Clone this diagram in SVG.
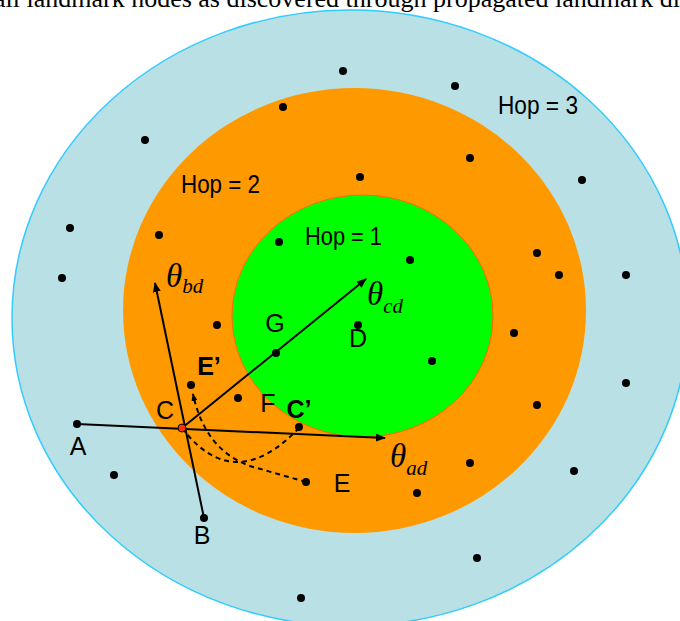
<svg xmlns="http://www.w3.org/2000/svg" width="680" height="621" viewBox="0 0 680 621">
<defs>
<style>
.dot{fill:#000}
.lbl{font-family:"Liberation Sans",Arial,sans-serif;font-size:25px;fill:#000}
.bold{font-weight:bold}
.hop{font-family:"Liberation Sans",Arial,sans-serif;font-size:25px;fill:#000}
.th{font-family:"Liberation Serif","Times New Roman",serif;font-style:italic;fill:#000}
.ln{stroke:#000;stroke-width:2;fill:none}
.dash{stroke:#000;stroke-width:2;fill:none;stroke-dasharray:5,4}
</style>
<marker id="ah" viewBox="0 0 10 8" refX="9" refY="4" markerWidth="10" markerHeight="8" markerUnits="userSpaceOnUse" orient="auto">
<path d="M0,0 L10,4 L0,8 z" fill="#000"/>
</marker>
<marker id="ahs" viewBox="0 0 8 6" refX="7" refY="3" markerWidth="8" markerHeight="6" markerUnits="userSpaceOnUse" orient="auto">
<path d="M0,0 L8,3 L0,6 z" fill="#000"/>
</marker>
</defs>
<rect width="680" height="621" fill="#fff"/>
<text x="-6" y="7" font-family="'Liberation Serif','Times New Roman',serif" font-size="26" fill="#000">all landmark nodes as discovered through propagated landmark di</text>
<g id="zone3">
<ellipse cx="350" cy="318" rx="338" ry="308" fill="#B9E0E4" stroke="#33CCFF" stroke-width="1.5"/>
<text class="hop" x="498" y="114" textLength="80" lengthAdjust="spacingAndGlyphs">Hop = 3</text>
</g>
<g id="zone2">
<ellipse cx="354.5" cy="310.5" rx="231.5" ry="222.5" fill="#FF9900"/>
<text class="hop" x="181" y="193" textLength="79" lengthAdjust="spacingAndGlyphs">Hop = 2</text>
</g>
<g id="zone1">
<ellipse cx="362.5" cy="316" rx="130.5" ry="121" fill="#00FF00" stroke="#FF6600" stroke-width="1"/>
<text class="hop" x="305" y="245" textLength="77" lengthAdjust="spacingAndGlyphs">Hop = 1</text>
</g>
<g id="connectors">
<line class="ln" x1="77" y1="424" x2="385" y2="438" marker-end="url(#ah)"/>
<line class="ln" x1="204" y1="518" x2="155" y2="283" marker-end="url(#ah)"/>
<line class="ln" x1="182" y1="428" x2="366" y2="279" marker-end="url(#ah)"/>
<path class="dash" d="M182,428 Q234,496 299,428"/>
<path class="dash" d="M306,482 L250,466 Q205,450 193,394" marker-end="url(#ahs)"/>
</g>
<g id="dots">
<circle class="dot" cx="343" cy="71" r="4"/>
<circle class="dot" cx="455" cy="86" r="4"/>
<circle class="dot" cx="283" cy="107" r="4"/>
<circle class="dot" cx="145" cy="140" r="4"/>
<circle class="dot" cx="470" cy="158" r="4"/>
<circle class="dot" cx="360" cy="177" r="4"/>
<circle class="dot" cx="582" cy="180" r="4"/>
<circle class="dot" cx="70" cy="228" r="4"/>
<circle class="dot" cx="62" cy="278" r="4"/>
<circle class="dot" cx="159" cy="235" r="4"/>
<circle class="dot" cx="279" cy="242" r="4"/>
<circle class="dot" cx="410" cy="260" r="4"/>
<circle class="dot" cx="537" cy="253" r="4"/>
<circle class="dot" cx="559" cy="275" r="4"/>
<circle class="dot" cx="626" cy="275" r="4"/>
<circle class="dot" cx="217" cy="325" r="4"/>
<circle class="dot" cx="514" cy="333" r="4"/>
<circle class="dot" cx="432" cy="361" r="4"/>
<circle class="dot" cx="238" cy="398" r="4"/>
<circle class="dot" cx="626" cy="383" r="4"/>
<circle class="dot" cx="537" cy="405" r="4"/>
<circle class="dot" cx="114" cy="475" r="4"/>
<circle class="dot" cx="470" cy="463" r="4"/>
<circle class="dot" cx="574" cy="471" r="4"/>
<circle class="dot" cx="417" cy="493" r="4"/>
<circle class="dot" cx="477" cy="558" r="4"/>
<circle class="dot" cx="301" cy="598" r="4"/>
</g>
<g id="nodeA"><circle class="dot" cx="77" cy="424" r="4"/><text class="lbl" x="78" y="455" text-anchor="middle">A</text></g>
<g id="nodeB"><circle class="dot" cx="204" cy="518" r="4"/><text class="lbl" x="202" y="544" text-anchor="middle">B</text></g>
<g id="nodeC"><circle cx="182" cy="428" r="4" fill="#FF3300" stroke="#000" stroke-width="1"/><text class="lbl" x="165" y="419" text-anchor="middle">C</text></g>
<g id="nodeC2"><circle class="dot" cx="299" cy="427" r="4"/><text class="lbl bold" x="299" y="418" text-anchor="middle">C’</text></g>
<g id="nodeD"><circle class="dot" cx="358" cy="325" r="4"/><text class="lbl" x="358" y="347" text-anchor="middle">D</text></g>
<g id="nodeE"><circle class="dot" cx="306" cy="482" r="4"/><text class="lbl" x="342" y="492" text-anchor="middle">E</text></g>
<g id="nodeE2"><circle class="dot" cx="191" cy="385" r="4"/><text class="lbl bold" x="209" y="375" text-anchor="middle">E’</text></g>
<g id="nodeF"><text class="lbl" x="268" y="412" text-anchor="middle">F</text></g>
<g id="nodeG"><circle class="dot" cx="276" cy="353" r="4"/><text class="lbl" x="275" y="332" text-anchor="middle">G</text></g>
<g id="labels">
<text class="th" x="166" y="287" font-size="33">θ<tspan font-size="21" dy="6">bd</tspan></text>
<text class="th" x="367" y="305" font-size="33">θ<tspan font-size="21" dy="8">cd</tspan></text>
<text class="th" x="390" y="467" font-size="33">θ<tspan font-size="21" dy="8">ad</tspan></text>
</g>
</svg>
